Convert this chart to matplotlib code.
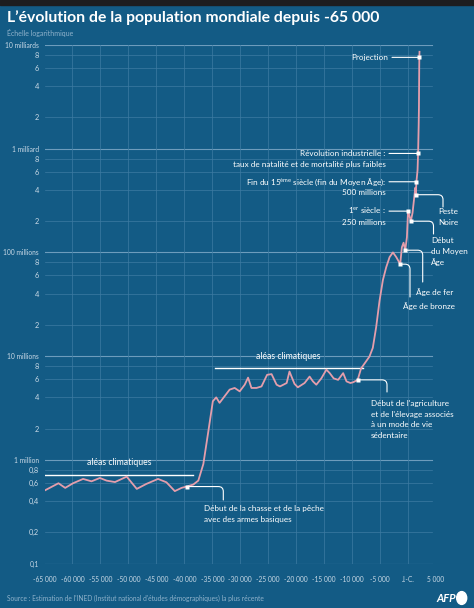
import matplotlib

matplotlib.use("Agg")
import matplotlib.pyplot as plt
from matplotlib.patches import Circle, Rectangle

W, H = 474, 608

# population estimates (millions)
years = [-65000, -62500, -61300, -59900, -58100, -56600, -55100, -53900, -52400, -50300,
         -48500, -46800, -44700, -43200, -41700, -40500, -39600, -38400, -37500, -36600,
         -35700, -34900, -34300, -33700, -32800, -31900, -31000, -30100, -29200, -28600,
         -28000, -27100, -26200, -25200, -24400, -23500, -22900, -21700, -21200, -20300,
         -19700, -18500, -17600, -17000, -16400, -15500, -14600, -14000, -13300, -12500,
         -11600, -11000, -10300, -9800, -9000, -8400, -7500, -6900, -6300, -5700,
         -5100, -4500, -3900, -3300, -2700, -2100, -1400, -1100, -800, -500,
         -200, 0, 200, 500, 800, 1000, 1300, 1350, 1400, 1500,
         1700, 1800, 1900, 1950, 2000, 2020, 2050]
pop_millions = [0.505, 0.594, 0.536, 0.594, 0.654, 0.62, 0.668, 0.63, 0.61, 0.688,
                0.524, 0.585, 0.654, 0.607, 0.499, 0.536, 0.552, 0.577, 0.63, 0.91,
                1.89, 3.67, 4.0, 3.54, 4.1, 4.75, 4.93, 4.57, 5.3, 6.2,
                4.93, 4.93, 5.1, 6.6, 6.7, 5.3, 5.1, 5.5, 7.1, 5.4,
                5.0, 5.5, 6.35, 5.7, 5.3, 6.1, 7.4, 6.85, 6.1, 5.9,
                6.85, 5.7, 5.5, 5.6, 5.9, 7.6, 8.9, 9.9, 12, 19,
                34, 54, 72, 90, 100, 90, 77, 112, 124, 105,
                140, 250, 230, 200, 240, 300, 420, 360, 380, 480,
                620, 900, 1650, 2500, 6100, 7600, 8600]

# "aléas climatiques" spans: start year, end year, level (millions)
climate_starts = [-65000, -34600]
climate_ends = [-38400, -8100]
climate_levels = [0.714, 7.6]

x_ticks = list(range(-65000, 5001, 5000))
x_labels = ["-65 000", "-60 000", "-55 000", "-50 000", "-45 000", "-40 000", "-35 000",
            "-30 000", "-25 000", "-20 000", "-15 000", "-10 000", "-5 000", "J.-C.", "5 000"]
y_major = [1e5, 1e6, 1e7, 1e8, 1e9, 1e10]
y_major_labels = ["0,1", "1 million", "10 millions", "100 millions", "1 milliard", "10 milliards"]
y_minor = [2e5, 4e5, 6e5, 8e5] + [m * d for d in (1e6, 1e7, 1e8, 1e9) for m in (2, 4, 6, 8)]
y_minor_labels = ["0,2", "0,4", "0,6", "0,8"] + ["2", "4", "6", "8"] * 4

BG = "#135b85"
LINE = "#e49eac"
TXT = "#ffffff"
TICK = "#c9d9e6"
MUTED = "#8fb2cb"

plt.rcParams["font.family"] = ["Lato", "DejaVu Sans"]
plt.rcParams["mathtext.fontset"] = "custom"
plt.rcParams["mathtext.rm"] = "Lato"

fig = plt.figure(figsize=(W / 100, H / 100), dpi=100, facecolor=BG)
fig.patches.append(Rectangle((0, 1 - 5 / H), 1, 5 / H, transform=fig.transFigure,
                             color="#1d1d1f", zorder=0))

ax = fig.add_axes([44.5 / W, 1 - 563.5 / H, 391.5 / W, 518.5 / H])
ax.set_facecolor(BG)
ax.set_yscale("log")
ax.set_xlim(-65000, 5000)
ax.set_ylim(1e5, 1e10)
for s in ax.spines.values():
    s.set_visible(False)

# grid
for yv in y_minor:
    ax.axhline(yv, xmax=0.99, color="#3d7ba2", lw=0.5, zorder=1)
for yv in y_major:
    ax.axhline(yv, xmax=0.99, color="#6d9cbc", lw=0.8, zorder=1)
for xv in x_ticks[1:-1]:
    ax.axvline(xv, color="#3d7ba2", lw=0.5, zorder=1)

ax.set_xticks(x_ticks)
ax.set_xticklabels(x_labels, fontsize=4.8, color=TICK)
ax.set_yticks(y_major)
ax.set_yticklabels(y_major_labels, fontsize=4.8, color=TICK)
ax.set_yticks(y_minor, minor=True)
ax.set_yticklabels(y_minor_labels, minor=True, fontsize=5.3, color=TICK)
ax.tick_params(which="both", length=0, pad=4)
ax.tick_params(axis="x", pad=9)

pop = [p * 1e6 for p in pop_millions]
ax.plot(years, pop, color=LINE, lw=1.3, zorder=4, solid_joinstyle="round")

# climate spans
for x0, x1, lv in zip(climate_starts, climate_ends, climate_levels):
    ax.plot([x0, x1], [lv * 1e6, lv * 1e6], color=TXT, lw=1.0, zorder=3)
    ax.annotate("aléas climatiques", xy=((x0 + x1) / 2, lv * 1e6), xytext=(0, 5.5),
                textcoords="offset points", ha="center", va="bottom",
                fontsize=6.2, color=TXT)


def disp(year):
    p = pop[years.index(year)]
    d = ax.transData.transform((year, p))
    return p, d[0], d[1]


def dot(year):
    p = pop[years.index(year)]
    ax.plot([year], [p], marker="s", ms=2.6, color="white", mec="none", zorder=6)


lead = dict(arrowstyle="-", color=TXT, lw=0.8, shrinkA=0, shrinkB=0)
fs = 5.9


def note_left(year, lines, x_text, x_line):
    p, dx, dy = disp(year)
    ax.annotate("", xy=(year, p), xytext=(x_line, dy), textcoords="figure pixels",
                arrowprops=lead, zorder=5)
    for i, t in enumerate(lines):
        fig.text(x_text / W, (dy - i * 11) / H, t, ha="right", va="center",
                 fontsize=fs, color=TXT)
    dot(year)


def note_curve(year, end, lines, x_text, y_text, ha):
    p = pop[years.index(year)]
    ax.annotate("", xy=(year, p), xytext=(end[0], H - end[1]), textcoords="figure pixels",
                arrowprops=dict(lead, connectionstyle="angle,angleA=90,angleB=0,rad=5"),
                zorder=5)
    for i, t in enumerate(lines):
        fig.text(x_text / W, 1 - (y_text + i * 10.6) / H, t, ha=ha, va="center",
                 fontsize=fs, color=TXT)
    dot(year)


note_left(2020, ["Projection"], 388, 392)
note_left(1800, ["Révolution industrielle :",
                 "taux de natalité et de mortalité plus faibles"], 385.5, 389)
note_left(1500, [r"Fin du 15$^{\mathrm{ème}}$ siècle (fin du Moyen Âge):",
                 "500 millions"], 386, 389)
note_left(0, [r"1$^{\mathrm{er}}$ siècle :", "250 millions"], 386, 389)

note_curve(1350, (443, 207), ["Peste", "Noire"], 448.5, 212, "center")
note_curve(500, (433.5, 234), ["Début", "du Moyen", "Âge"], 431, 240.5, "left")
note_curve(-500, (422.7, 282), ["Âge de fer"], 435, 291.5, "center")
note_curve(-1400, (410, 297), ["Âge de bronze"], 428.5, 305.7, "center")
note_curve(-9000, (387, 392), ["Début de l'agriculture", "et de l'élevage associés",
                               "à un mode de vie", "sédentaire"], 371, 403.5, "left")
note_curve(-39600, (223.3, 500), ["Début de la chasse et de la pêche",
                                  "avec des armes basiques"], 204, 509, "left")

# header and footer
fig.text(7 / W, 1 - 18 / H, "L’évolution de la population mondiale depuis -65 000",
         fontsize=11.3, fontweight="bold", color=TXT, va="center", ha="left")
fig.text(7 / W, 1 - 33 / H, "Échelle logarithmique", fontsize=5, color=MUTED,
         va="center", ha="left")
fig.text(7 / W, 1 - 598 / H,
         "Source : Estimation de l'INED (Institut national d'études démographiques) la plus récente",
         fontsize=4.8, color=MUTED, va="center", ha="left")
fig.text(456.5 / W, 1 - 598 / H, "AFP", fontsize=8, fontweight="bold", fontstyle="italic",
         color=TXT, va="center", ha="right")
fig.patches.append(Circle((461.7 / W, 1 - 598 / H), 5 / W, transform=fig.transFigure,
                          color=TXT))

fig.savefig("out.png", dpi=100, facecolor=BG)
